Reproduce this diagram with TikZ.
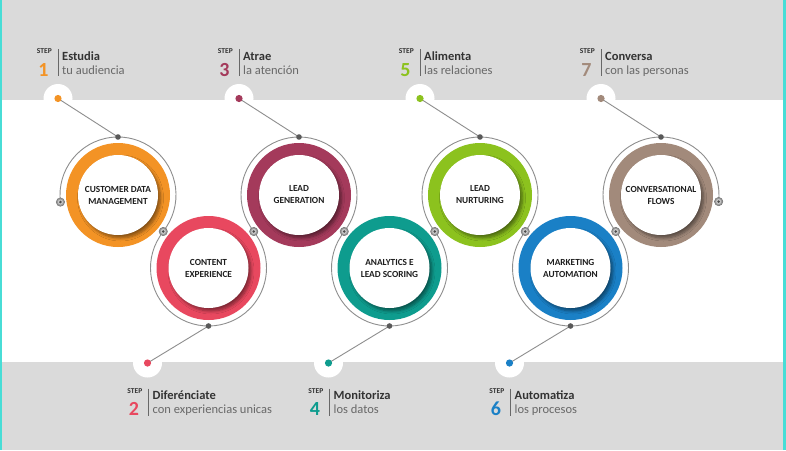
\documentclass[tikz,border=0pt]{standalone}
\usepackage{fontspec}
\setmainfont{Carlito}
\usetikzlibrary{calc,shadows.blur}
\definecolor{bggrey}{HTML}{DADADA}
\definecolor{cyanline}{HTML}{48DDD6}
\definecolor{lineg}{HTML}{8E8E8E}
\definecolor{txtdark}{HTML}{1E1E1E}
\definecolor{titlec}{HTML}{333333}
\definecolor{subc}{HTML}{686868}
\definecolor{cOne}{HTML}{F39325}
\definecolor{cTwo}{HTML}{E8485F}
\definecolor{cThree}{HTML}{A43A5B}
\definecolor{cFour}{HTML}{0E9C8E}
\definecolor{cFive}{HTML}{8CC21E}
\definecolor{cSix}{HTML}{1A80C6}
\definecolor{cSeven}{HTML}{A28A7B}
\newcommand\steplabel[7]{%
  \draw[barline] (#2,#3) -- (#2,#3+27);
  \node[steptag, anchor=base east] (st#1) at (#2-6,#3+4.7) {STEP};
  \node[stepnum, text=#4, anchor=base] (sn#1) at (#2-14.5,#3+27) {#5};
  \node[steptitle, anchor=base west] (tt#1) at (#2+4,#3+11) {#6};
  \node[stepsub, anchor=base west] (ts#1) at (#2+4,#3+25) {#7};
}
\begin{document}
\begin{tikzpicture}[x=1pt,y=-1pt,
  greyline/.style={draw=lineg, line width=0.9pt},
  barline/.style={draw=subc, line width=0.8pt},
  ringbox/.style={circle, minimum size=104pt, inner sep=0pt},
  corebox/.style={circle, fill=white, minimum size=80pt, inner sep=0pt, align=center,
     font=\bfseries\fontsize{9.3}{12}\selectfont, text=txtdark,
     blur shadow={shadow xshift=2.5pt, shadow yshift=-3pt, shadow opacity=45, shadow blur steps=6, shadow blur radius=3pt}},
  steptag/.style={inner sep=0pt, font=\bfseries\fontsize{7.5}{8}\selectfont, text=titlec},
  stepnum/.style={inner sep=0pt, font=\bfseries\fontsize{20}{20}\selectfont},
  steptitle/.style={inner sep=0pt, font=\bfseries\fontsize{12.5}{13}\selectfont, text=titlec},
  stepsub/.style={inner sep=0pt, font=\fontsize{12.5}{13}\selectfont, text=subc},
  bubble/.style={fill=white},
  topdot/.style={fill=black!65},
  joint/.style={fill=black!40, draw=black!55, line width=0.5pt}
  ]
\useasboundingbox (0,0) rectangle (786,450);
% background
\fill[bggrey] (0,0) rectangle (786,450);
\fill[white] (0,100) rectangle (786,362);
% centers
\coordinate (p1) at (118,195);
\coordinate (p2) at (208.5,268);
\coordinate (p3) at (299,195);
\coordinate (p4) at (389.5,268);
\coordinate (p5) at (480,195);
\coordinate (p6) at (570.5,268);
\coordinate (p7) at (661,195);
% step dots
\coordinate (d1) at (58,98.5);
\coordinate (d3) at (239,98.5);
\coordinate (d5) at (420,98.5);
\coordinate (d7) at (601,98.5);
\coordinate (d2) at (147.5,363);
\coordinate (d4) at (328.5,363);
\coordinate (d6) at (509.5,363);
\foreach \d in {d1,d2,d3,d4,d5,d6,d7} \fill[bubble] (\d) circle[radius=14.5pt];
\fill[cyanline] (0,0) rectangle (2.2,450);
\fill[cyanline] (783,0) rectangle (786,450);
% attach points
\coordinate (a1) at ($(p1)+(0,-58)$);
\coordinate (a3) at ($(p3)+(0,-58)$);
\coordinate (a5) at ($(p5)+(0,-58)$);
\coordinate (a7) at ($(p7)+(0,-58)$);
\coordinate (a2) at ($(p2)+(0,58)$);
\coordinate (a4) at ($(p4)+(0,58)$);
\coordinate (a6) at ($(p6)+(0,58)$);
\coordinate (m12) at ($(p1)!.5!(p2)$);
\coordinate (m23) at ($(p2)!.5!(p3)$);
\coordinate (m34) at ($(p3)!.5!(p4)$);
\coordinate (m45) at ($(p4)!.5!(p5)$);
\coordinate (m56) at ($(p5)!.5!(p6)$);
\coordinate (m67) at ($(p6)!.5!(p7)$);
\coordinate (e1) at ($(p1)+(187:58pt)$);
\coordinate (e7) at ($(p7)+(-6.5:58pt)$);
% grey arcs
\draw[greyline] (e1) arc[start angle=187, end angle=-38.9, radius=58pt];
\foreach \p in {p3,p5} \draw[greyline] (\p) ++(218.9:58pt) arc[start angle=218.9, end angle=-38.9, radius=58pt];
\draw[greyline] (p7) ++(218.9:58pt) arc[start angle=218.9, end angle=-6.5, radius=58pt];
\foreach \p in {p2,p4,p6} \draw[greyline] (\p) ++(141.1:58pt) arc[start angle=141.1, end angle=398.9, radius=58pt];
% connectors
\draw[greyline] (a1) -- (d1);
\draw[greyline] (a3) -- (d3);
\draw[greyline] (a5) -- (d5);
\draw[greyline] (a7) -- (d7);
\draw[greyline] (a2) -- (d2);
\draw[greyline] (a4) -- (d4);
\draw[greyline] (a6) -- (d6);
% colored dots
\fill[cOne] (d1) circle[radius=3.6pt];
\fill[cTwo] (d2) circle[radius=3.6pt];
\fill[cThree] (d3) circle[radius=3.6pt];
\fill[cFour] (d4) circle[radius=3.6pt];
\fill[cFive] (d5) circle[radius=3.6pt];
\fill[cSix] (d6) circle[radius=3.6pt];
\fill[cSeven] (d7) circle[radius=3.6pt];
% rings
\node[ringbox, fill=cOne] (r1) at (p1) {};
\node[ringbox, fill=cTwo] (r2) at (p2) {};
\node[ringbox, fill=cThree] (r3) at (p3) {};
\node[ringbox, fill=cFour] (r4) at (p4) {};
\node[ringbox, fill=cFive] (r5) at (p5) {};
\node[ringbox, fill=cSix] (r6) at (p6) {};
\node[ringbox, fill=cSeven] (r7) at (p7) {};
\node[corebox] (c1) at (p1) {CUSTOMER DATA\\MANAGEMENT};
\node[corebox] (c2) at (p2) {CONTENT\\EXPERIENCE};
\node[corebox] (c3) at (p3) {LEAD\\GENERATION};
\node[corebox] (c4) at (p4) {ANALYTICS E\\LEAD SCORING};
\node[corebox] (c5) at (p5) {LEAD\\NURTURING};
\node[corebox] (c6) at (p6) {MARKETING\\AUTOMATION};
\node[corebox] (c7) at (p7) {CONVERSATIONAL\\FLOWS};
% dots on rings
\foreach \a in {a1,a2,a3,a4,a5,a6,a7} \fill[topdot] (\a) circle[radius=2.8pt];
\foreach \m in {m12,m23,m34,m45,m56,m67,e1,e7} {
  \filldraw[joint] (\m) circle[radius=4.2pt];
  \fill[black!22] (\m) circle[radius=2.6pt];
  \fill[black!70] (\m) circle[radius=1.4pt];
}
% step labels
\steplabel{1}{58}{49}{cOne}{1}{Estudia}{tu audiencia}
\steplabel{3}{239}{49}{cThree}{3}{Atrae}{la atención}
\steplabel{5}{420}{49}{cFive}{5}{Alimenta}{las relaciones}
\steplabel{7}{601}{49}{cSeven}{7}{Conversa}{con las personas}
\steplabel{2}{148.5}{388.5}{cTwo}{2}{Diferénciate}{con experiencias unicas}
\steplabel{4}{329.5}{388.5}{cFour}{4}{Monitoriza}{los datos}
\steplabel{6}{510.5}{388.5}{cSix}{6}{Automatiza}{los procesos}
\end{tikzpicture}
\end{document}
